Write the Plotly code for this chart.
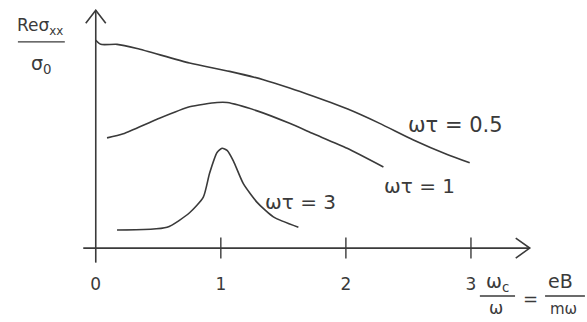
import plotly.graph_objects as go

# Real part of the conductivity vs. cyclotron frequency ratio, for three values of omega*tau
x_half = [0.0, 0.04, 0.17, 0.33, 0.75, 1.07, 1.34, 1.55, 1.74, 2.01, 2.27, 2.54, 2.81, 2.99]
y_half = [1.00, 0.98, 0.98, 0.96, 0.89, 0.85, 0.81, 0.77, 0.73, 0.67, 0.60, 0.52, 0.45, 0.41]

x_one = [0.09, 0.22, 0.49, 0.75, 0.97, 1.05, 1.29, 1.55, 1.74, 2.01, 2.30]
y_one = [0.53, 0.55, 0.62, 0.68, 0.70, 0.70, 0.66, 0.60, 0.55, 0.48, 0.39]

x_three = [0.17, 0.57, 0.75, 0.86, 0.91, 0.97, 1.01, 1.05, 1.10, 1.18, 1.29, 1.42, 1.62]
y_three = [0.087, 0.10, 0.17, 0.245, 0.36, 0.46, 0.48, 0.47, 0.42, 0.31, 0.22, 0.15, 0.10]

tick_vals = [0, 1, 2, 3]
tick_text = ["0", "1", "2", "3"]

INK = "#3a3a3a"
FONT = "DejaVu Sans"

fig = go.Figure()

for xs, ys in [(x_half, y_half), (x_one, y_one), (x_three, y_three)]:
    fig.add_trace(go.Scatter(
        x=xs, y=ys, mode="lines",
        line=dict(color=INK, width=1.6, shape="spline", smoothing=0.6),
        hoverinfo="skip", showlegend=False,
    ))

# small crossing tick marks on the horizontal axis
fig.add_trace(go.Scatter(
    x=tick_vals[1:], y=[0] * (len(tick_vals) - 1), mode="markers",
    marker=dict(symbol="line-ns", size=15, line=dict(color=INK, width=1.4)),
    hoverinfo="skip", showlegend=False,
))

# axes drawn as pen strokes with open arrow heads
fig.add_shape(type="line", x0=-0.1, y0=0, x1=3.47, y1=0, line=dict(color=INK, width=1.6))
fig.add_shape(type="line", x0=0, y0=-0.07, x1=0, y1=1.144, line=dict(color=INK, width=1.6))
fig.add_shape(type="path", xsizemode="pixel", ysizemode="pixel", xanchor=3.47, yanchor=0,
              path="M-14,-10 L0,0 L-14,10", line=dict(color=INK, width=1.6))
fig.add_shape(type="path", xsizemode="pixel", ysizemode="pixel", xanchor=0, yanchor=1.144,
              path="M-10,-13 L0,0 L10,-13", line=dict(color=INK, width=1.6))


def label(text, x, y, size=17, ref="data"):
    kw = dict(xref="paper", yref="paper") if ref == "paper" else {}
    fig.add_annotation(x=x, y=y, text=text, showarrow=False,
                       xanchor="center", yanchor="middle",
                       font=dict(family=FONT, size=size, color=INK), **kw)


def bar(x0, x1, y):
    fig.add_shape(type="line", xref="paper", yref="paper", x0=x0, x1=x1, y0=y, y1=y,
                  line=dict(color=INK, width=1.4))


# curve labels
label("ωτ = 0.5", 2.88, 0.59, 21)
label("ωτ = 1", 2.59, 0.30, 20)
label("ωτ = 3", 1.64, 0.22, 20)

# y-axis label as a stacked fraction
label("Reσ<sub>xx</sub>", -0.079, 0.935, 17, "paper")
bar(-0.126, -0.026, 0.875)
label("σ<sub>0</sub>", -0.075, 0.79, 19, "paper")

# x-axis label: ωc/ω = eB/mω
label("ω<sub>c</sub>", 0.896, -0.04, 19, "paper")
bar(0.859, 0.934, -0.091)
label("ω", 0.893, -0.138, 17, "paper")
label("=", 0.966, -0.099, 18, "paper")
label("eB", 1.03, -0.036, 19, "paper")
bar(0.998, 1.083, -0.091)
label("mω", 1.037, -0.14, 15, "paper")

fig.update_xaxes(range=[-0.15, 3.6], showgrid=False, zeroline=False, showline=False,
                 tickvals=tick_vals, ticktext=tick_text, ticks="",
                 tickfont=dict(family=FONT, size=17, color=INK))
fig.update_yaxes(range=[-0.115, 1.15], showgrid=False, zeroline=False, showline=False,
                 showticklabels=False, ticks="")

fig.update_layout(
    width=587, height=322,
    margin=dict(l=77, r=41, t=9, b=50),
    paper_bgcolor="white", plot_bgcolor="white",
)

fig.write_html("out.html")
